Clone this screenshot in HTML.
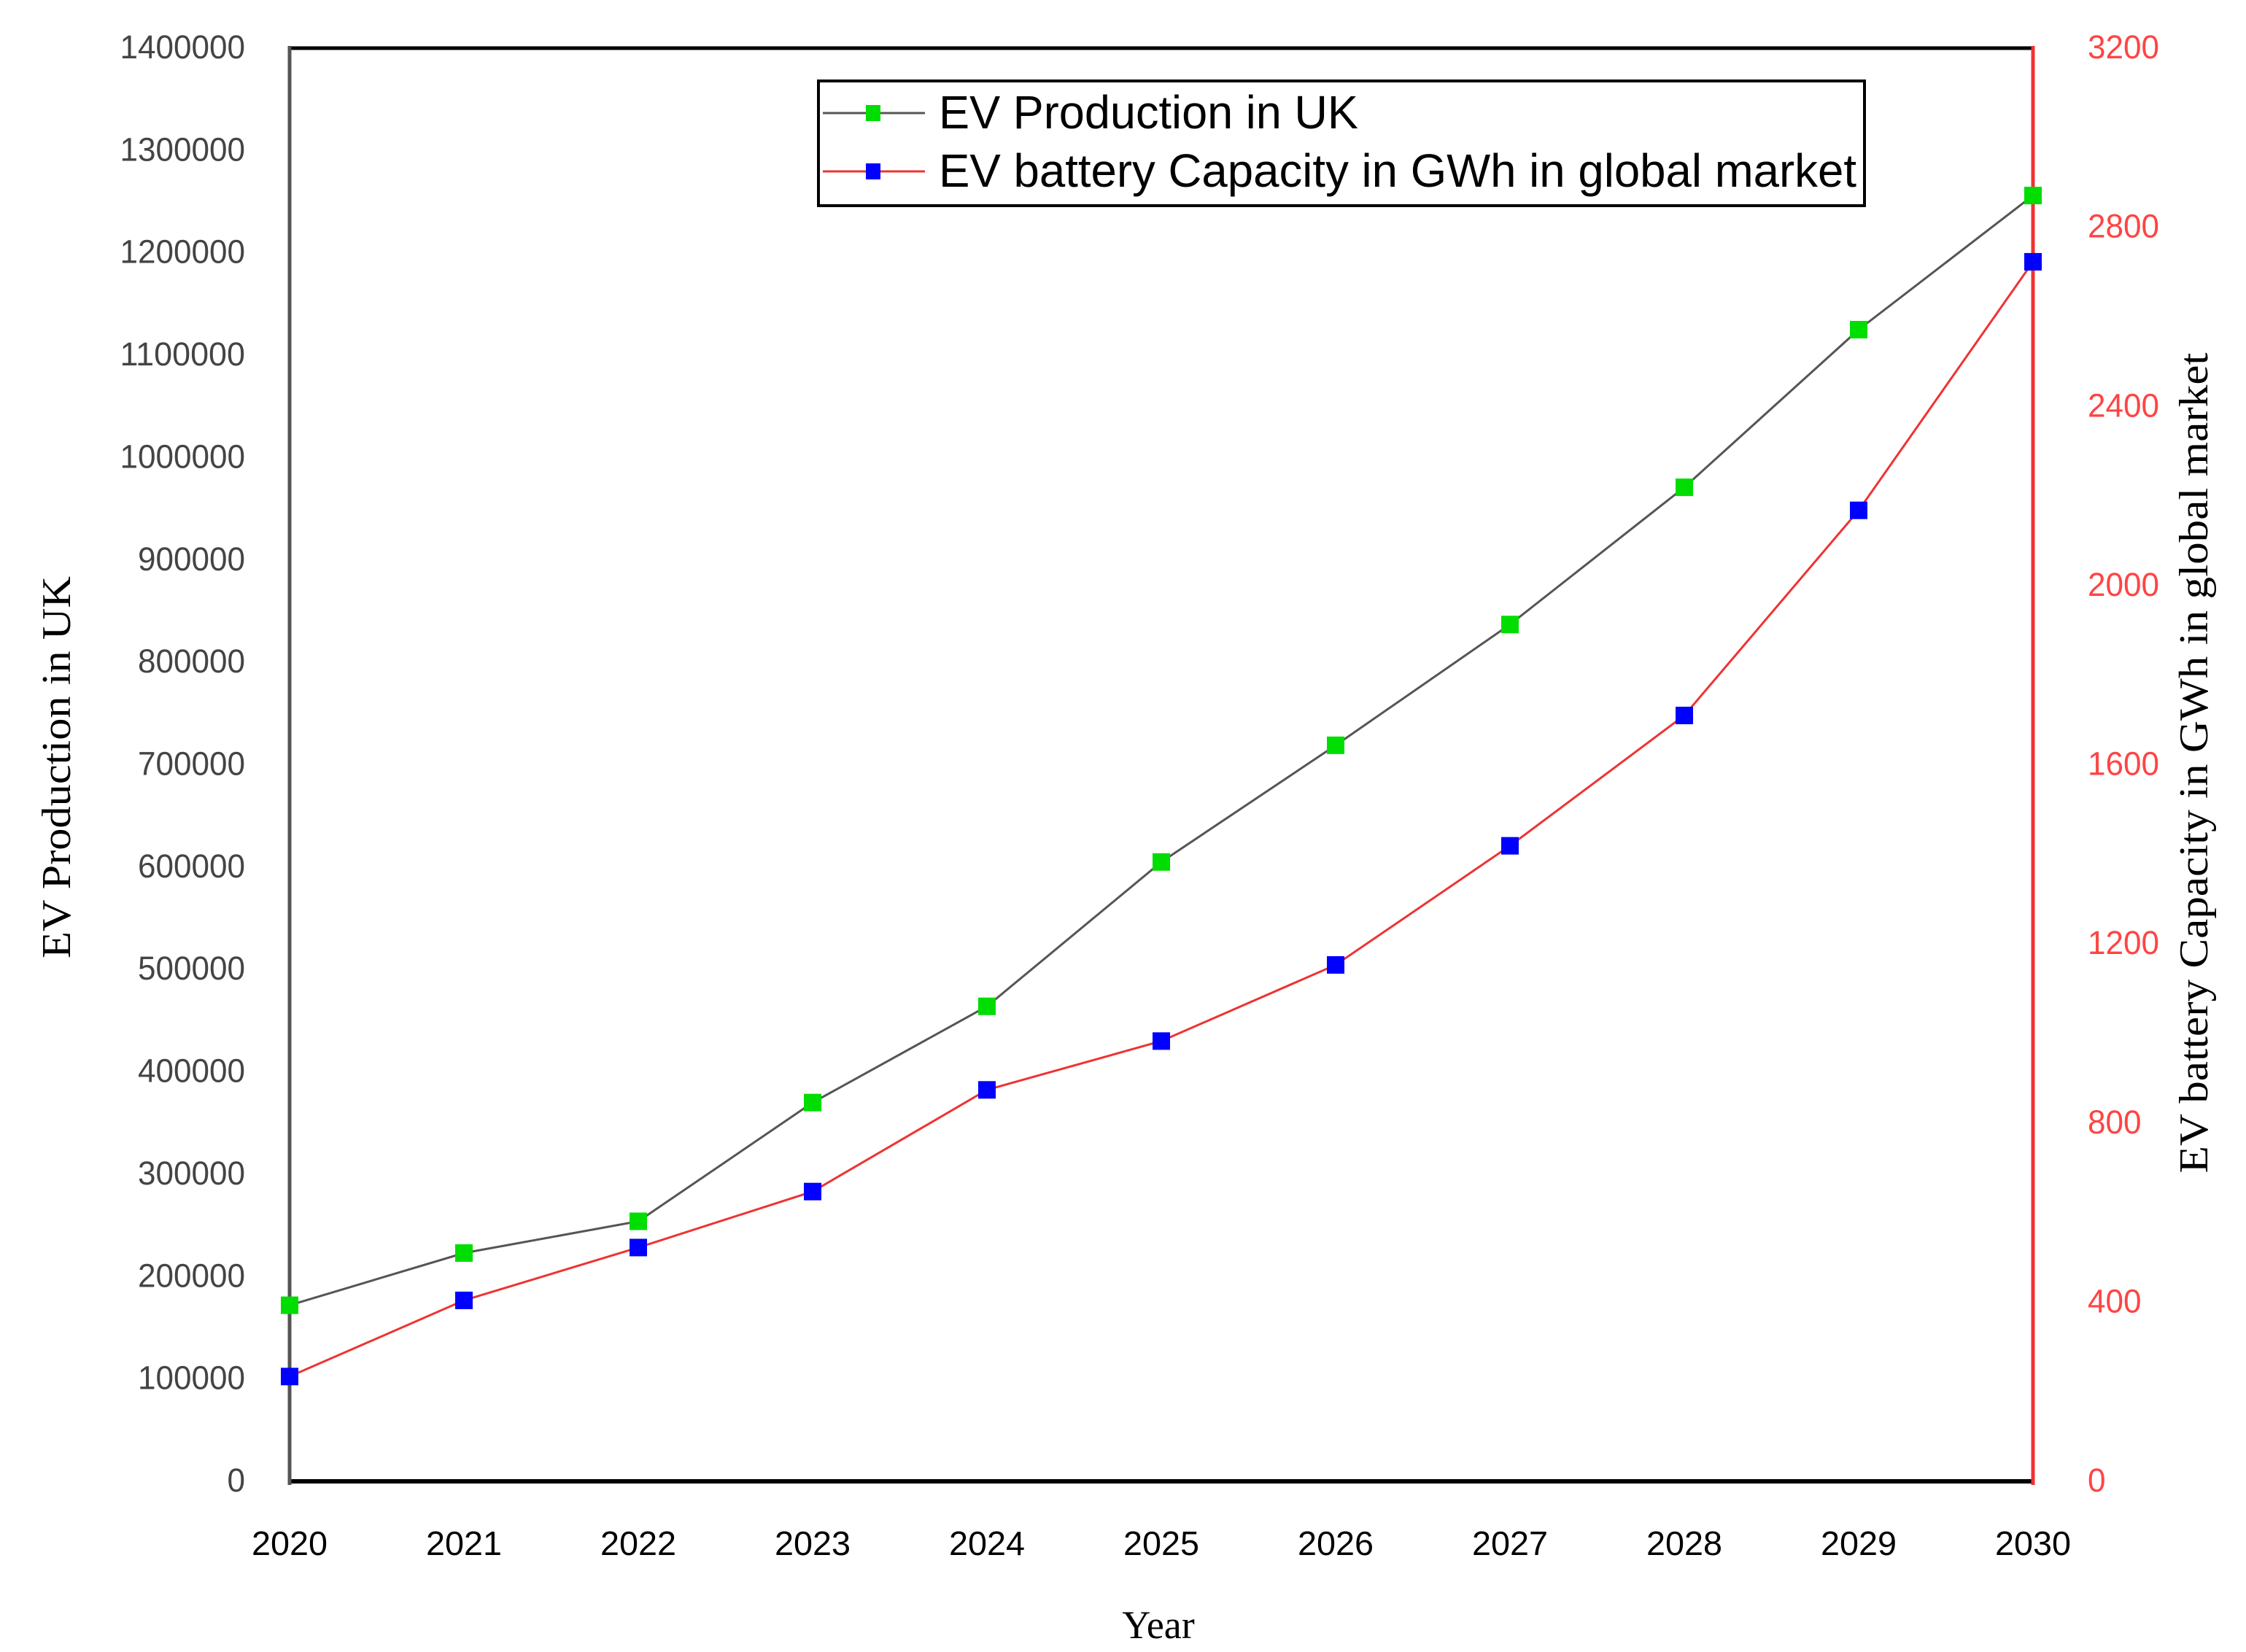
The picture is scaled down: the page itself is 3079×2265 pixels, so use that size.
<!DOCTYPE html>
<html><head><meta charset="utf-8"><style>
html,body{margin:0;padding:0;background:#fff;}
svg{display:block;}
</style></head><body>
<svg id="chart" width="3079" height="2265" viewBox="0 0 3079 2265" xmlns="http://www.w3.org/2000/svg">
<g id="grid"></g>
<g id="axes"></g>
<g id="series"></g>
<g id="legend">
  <rect x="1122" y="111" width="1434" height="171" fill="#fff" stroke="#000" stroke-width="4"/>
  <line x1="1128" y1="155" x2="1268" y2="155" stroke="#555" stroke-width="3"/>
  <rect x="1187" y="144" width="20" height="22" fill="#00dd00"/>
  <text x="1287" y="176" font-family="Liberation Sans, sans-serif" font-size="64" fill="#000" textLength="575" lengthAdjust="spacingAndGlyphs">EV Production in UK</text>
  <line x1="1128" y1="235" x2="1268" y2="235" stroke="#ee3333" stroke-width="3"/>
  <rect x="1187" y="224" width="20" height="22" fill="#0000ff"/>
  <text x="1287" y="256" font-family="Liberation Sans, sans-serif" font-size="64" fill="#000" textLength="1258" lengthAdjust="spacingAndGlyphs">EV battery Capacity in GWh in global market</text>
</g>
<text x="1588" y="2246" text-anchor="middle" font-family="Liberation Serif, serif" font-size="54" fill="#000">Year</text>
<text transform="translate(96,1052) rotate(-90)" text-anchor="middle" font-family="Liberation Serif, serif" font-size="56" fill="#000" textLength="524" lengthAdjust="spacingAndGlyphs">EV Production in UK</text>
<text transform="translate(3026,1046) rotate(-90)" text-anchor="middle" font-family="Liberation Serif, serif" font-size="56" fill="#000" textLength="1125" lengthAdjust="spacingAndGlyphs">EV battery Capacity in GWh in global market</text>
</svg>
<script>
const years = [2020,2021,2022,2023,2024,2025,2026,2027,2028,2029,2030];
const production = [172000,223000,254000,370000,464000,605000,719000,837000,971000,1125000,1256000];
const battery = [234,404,522,647,874,983,1153,1419,1710,2168,2723];
const leftTicks = [0,100000,200000,300000,400000,500000,600000,700000,800000,900000,1000000,1100000,1200000,1300000,1400000];
const rightTicks = [0,400,800,1200,1600,2000,2400,2800,3200];

const NS='http://www.w3.org/2000/svg';
const L=397,R=2787,T=66,B=2031;
const xMin=2020,xMax=2030,lMax=1400000,rMax=3200;
function xs(v){return L+(v-xMin)/(xMax-xMin)*(R-L);}
function yl(v){return B-v/lMax*(B-T);}
function yr(v){return B-v/rMax*(B-T);}
function mk(tag,attrs,parent){const e=document.createElementNS(NS,tag);for(const k in attrs)e.setAttribute(k,attrs[k]);parent.appendChild(e);return e;}
const axes=document.getElementById('axes');
const series=document.getElementById('series');

leftTicks.forEach(v=>{
  const t=mk('text',{x:336,y:yl(v)+14,'text-anchor':'end','font-family':'Liberation Sans, sans-serif','font-size':'45',fill:'#444',textLength:String(v).length*24.5,lengthAdjust:'spacingAndGlyphs'},axes);
  
  
  t.textContent=v;
});
rightTicks.forEach(v=>{
  const t=mk('text',{x:2862,y:yr(v)+14,'text-anchor':'start','font-family':'Liberation Sans, sans-serif','font-size':'45',fill:'#ff4444',textLength:String(v).length*24.5,lengthAdjust:'spacingAndGlyphs'},axes);
  
  
  t.textContent=v;
});
years.forEach(v=>{
  const t=mk('text',{x:xs(v),y:2132,'text-anchor':'middle','font-family':'Liberation Sans, sans-serif','font-size':'46',fill:'#000',textLength:104,lengthAdjust:'spacingAndGlyphs'},axes);
  
  
  t.textContent=v;
});
let a;
a=mk('line',{x1:L,y1:T,x2:R,y2:T,stroke:'#000','stroke-width':5},axes);


a=mk('line',{x1:L,y1:B,x2:R,y2:B,stroke:'#000','stroke-width':6},axes);


a=mk('line',{x1:L,y1:T-3,x2:L,y2:B+5,stroke:'#555','stroke-width':5},axes);


a=mk('line',{x1:R,y1:T-3,x2:R,y2:B+5,stroke:'#ee3333','stroke-width':5},axes);



function drawSeries(vals,yf,lineColor,markColor,name){
  const pts=vals.map((v,i)=>xs(years[i])+','+yf(v)).join(' ');
  const pl=mk('polyline',{points:pts,fill:'none',stroke:lineColor,'stroke-width':3},series);
  
  
  vals.forEach((v,i)=>{
    const r=mk('rect',{x:xs(years[i])-12,y:yf(v)-12,width:24,height:24,fill:markColor},series);
    
    
  });
}
drawSeries(production,yl,'#555','#00dd00','production');
drawSeries(battery,yr,'#ee3333','#0000ff','battery');
</script>
</body></html>
